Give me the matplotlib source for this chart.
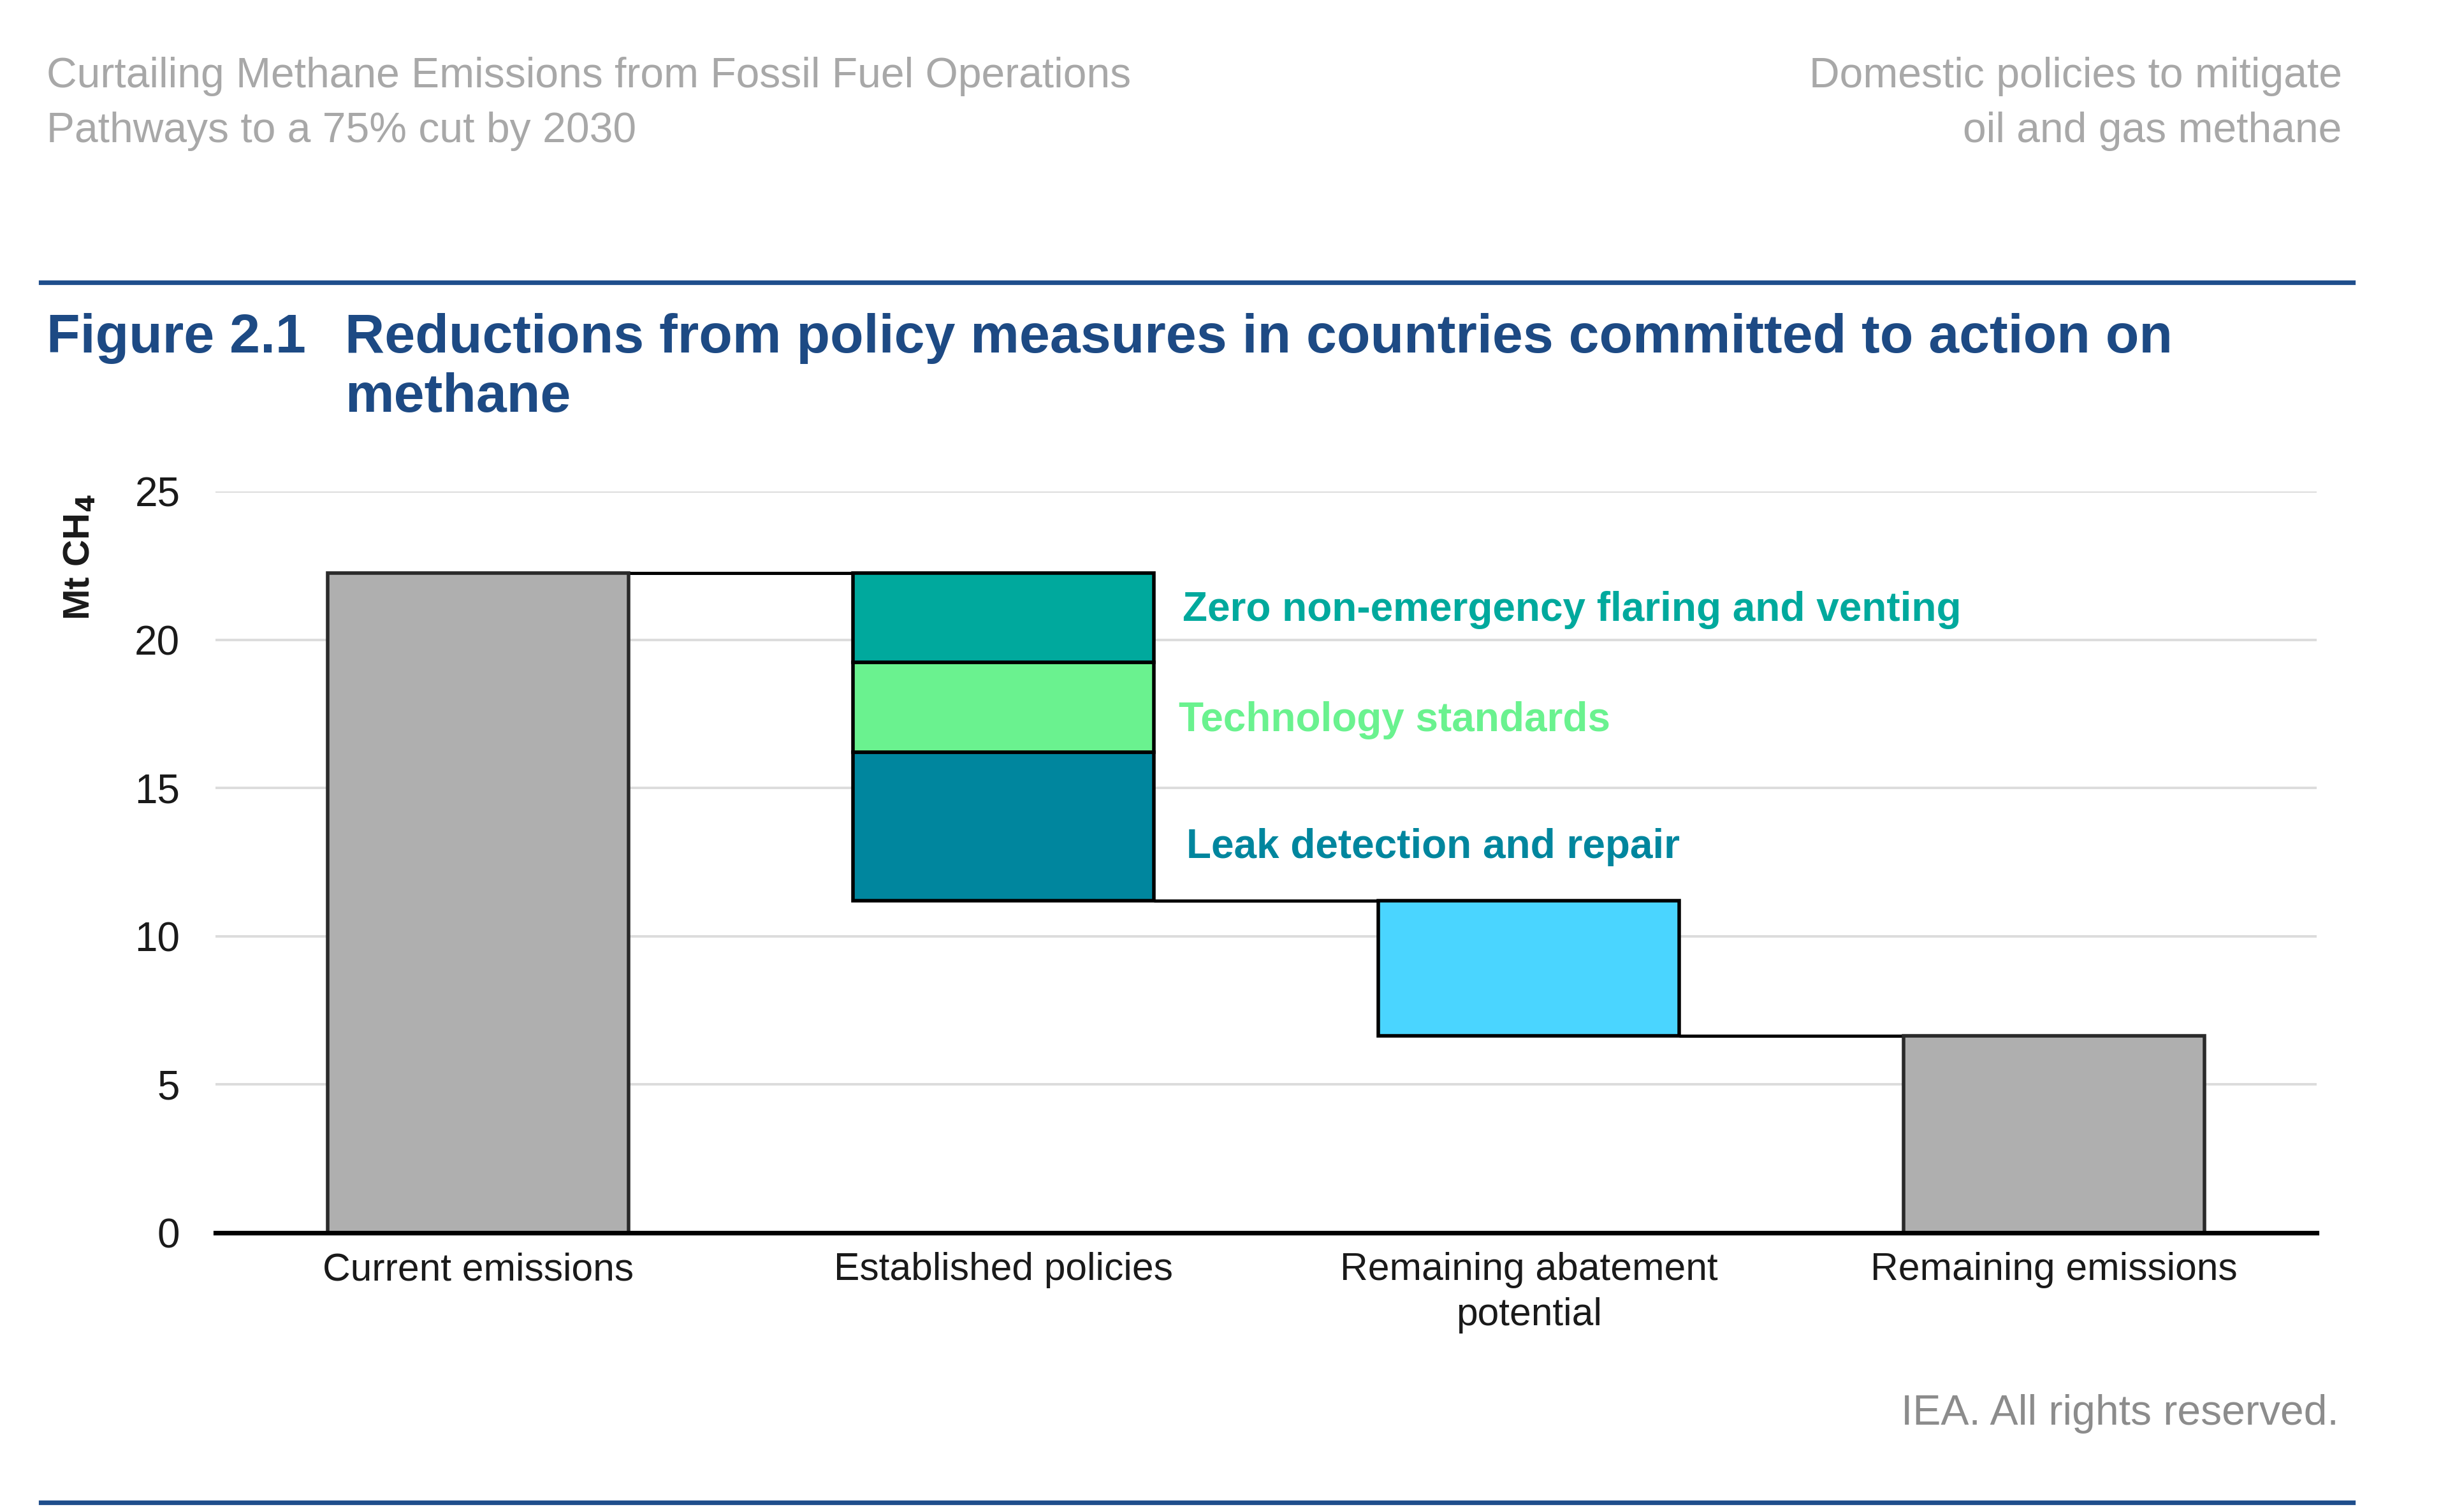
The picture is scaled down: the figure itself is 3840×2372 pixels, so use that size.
import numpy as np
import matplotlib
matplotlib.use("Agg")
import matplotlib.pyplot as plt
from matplotlib.lines import Line2D

plt.rcParams["font.family"] = ["Liberation Sans", "DejaVu Sans"]

# --- data (Mt CH4) ---
categories = ["Current emissions", "Established policies",
              "Remaining abatement\npotential", "Remaining emissions"]
current_emissions = 22.25
policy_names = ["Leak detection and repair", "Technology standards",
                "Zero non-emergency flaring and venting"]
policy_cuts = [5.0, 3.05, 3.0]          # stacked bottom -> top
remaining_abatement = 4.55
remaining_emissions = current_emissions - sum(policy_cuts) - remaining_abatement
y_ticks = [0, 5, 10, 15, 20, 25]

# --- style ---
GREY = "#afafaf"
POLICY_COLORS = ["#00869e", "#6af28f", "#00a99d"]
ABATE_COLOR = "#4ad5ff"
NAVY = "#1d4a84"
RULE = "#1f4e8c"
HEADER_GREY = "#a8a8a8"
BAR_W = 0.572
EDGE_LW = 2.0

fig = plt.figure(figsize=(19.2, 11.86), dpi=200)
ax = fig.add_axes([0.0880, 0.1847, 0.9464 - 0.0880, 0.6749 - 0.1847])

x = np.arange(len(categories))

# current emissions
ax.bar(x[0], current_emissions, width=BAR_W, color=GREY,
       edgecolor="#2a2a2a", linewidth=EDGE_LW, zorder=3)

# established policies (stacked, floating)
top = current_emissions
bottoms = []
for cut in policy_cuts[::-1]:
    bottoms.append(top - cut)
    top -= cut
bottoms = bottoms[::-1]
for cut, b, c in zip(policy_cuts, bottoms, POLICY_COLORS):
    ax.bar(x[1], cut, bottom=b, width=BAR_W, color=c,
           edgecolor="black", linewidth=EDGE_LW, zorder=3)
after_policies = current_emissions - sum(policy_cuts)

# remaining abatement potential (floating)
ax.bar(x[2], remaining_abatement, bottom=remaining_emissions, width=BAR_W,
       color=ABATE_COLOR, edgecolor="black", linewidth=EDGE_LW, zorder=3)

# remaining emissions
ax.bar(x[3], remaining_emissions, width=BAR_W, color=GREY,
       edgecolor="#2a2a2a", linewidth=EDGE_LW, zorder=3)

# connectors
levels = [current_emissions, after_policies, remaining_emissions]
for i, lvl in enumerate(levels):
    ax.plot([x[i] + BAR_W / 2, x[i + 1] - BAR_W / 2], [lvl, lvl],
            color="black", linewidth=1.8, zorder=2, solid_capstyle="butt")

# segment labels
label_dy = [-0.7, -0.45, 0.25]
label_dx = [0.062, 0.048, 0.055]
for name, cut, b, c, dy, dx in zip(policy_names, policy_cuts, bottoms,
                                   POLICY_COLORS, label_dy, label_dx):
    ax.text(x[1] + BAR_W / 2 + dx, b + cut / 2 + dy, name, color=c,
            fontsize=23, fontweight="bold", va="center", ha="left")

ax.set_xlim(-0.5, len(categories) - 0.5)
ax.set_ylim(0, 25)
ax.set_yticks(y_ticks)
ax.set_xticks(x)
ax.set_xticklabels(categories, fontsize=21.8, color="#1a1a1a", linespacing=1.3)
ax.tick_params(axis="both", length=0, colors="#1a1a1a")
ax.tick_params(axis="y", labelsize=23, pad=20)
ax.tick_params(axis="x", pad=11)
ax.yaxis.grid(True, color="#dcdcdc", linewidth=1.4, zorder=0)
ax.set_axisbelow(True)
for s in ["top", "right", "left"]:
    ax.spines[s].set_visible(False)
ax.spines["bottom"].set_linewidth(2.6)
ax.spines["bottom"].set_color("black")
ax.spines["bottom"].set_zorder(4)

fig.text(0.0325, 1 - 357 / 969, r"Mt CH$_\mathbf{4}$", rotation=90, fontsize=21,
         fontweight="bold", color="#1a1a1a", ha="center", va="center")

# header
fig.text(30 / 1568, 1 - 56 / 969, "Curtailing Methane Emissions from Fossil Fuel Operations",
         fontsize=23.75, color=HEADER_GREY, ha="left", va="baseline")
fig.text(30 / 1568, 1 - 91 / 969, "Pathways to a 75% cut by 2030",
         fontsize=23.75, color=HEADER_GREY, ha="left", va="baseline")
fig.text(1500 / 1568, 1 - 56 / 969, "Domestic policies to mitigate",
         fontsize=23.75, color=HEADER_GREY, ha="right", va="baseline")
fig.text(1500 / 1568, 1 - 91 / 969, "oil and gas methane",
         fontsize=23.75, color=HEADER_GREY, ha="right", va="baseline")

# rules
for yy in [1 - 181 / 969, 1 - 963 / 969]:
    fig.add_artist(Line2D([26 / 1568, 1507 / 1568], [yy, yy],
                          color=RULE, linewidth=2.6, transform=fig.transFigure))

# title
fig.text(30 / 1568, 1 - 226 / 969, "Figure 2.1", fontsize=31, fontweight="bold",
         color=NAVY, ha="left", va="baseline")
fig.text(221 / 1568, 1 - 226 / 969,
         "Reductions from policy measures in countries committed to action on",
         fontsize=31, fontweight="bold", color=NAVY, ha="left", va="baseline")
fig.text(221 / 1568, 1 - 264 / 969, "methane", fontsize=31, fontweight="bold",
         color=NAVY, ha="left", va="baseline")

# source note
fig.text(1498 / 1568, 1 - 913 / 969, "IEA. All rights reserved.", fontsize=23.8,
         color="#8c8c8c", ha="right", va="baseline")

fig.savefig("out.png", dpi=200, facecolor="white")
